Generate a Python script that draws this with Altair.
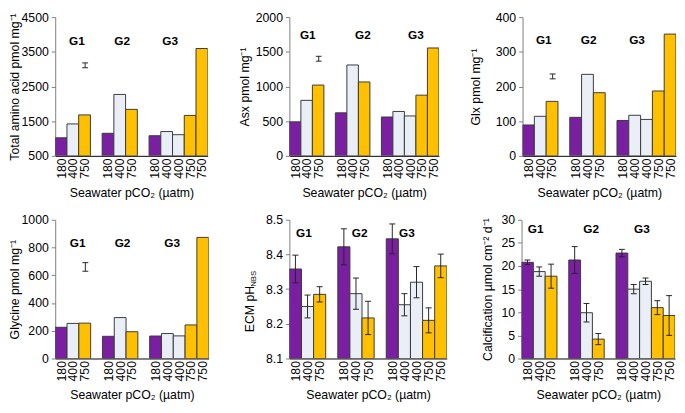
import altair as alt
import pandas as pd

# ---------------- categories ----------------
bar_groups = ["G1", "G1", "G1", "G2", "G2", "G2", "G3", "G3", "G3", "G3", "G3"]
bar_pco2 = ["180", "400", "750", "180", "400", "750", "180", "400", "400", "750", "750"]
group_names = ["G1", "G2", "G3"]
pco2_levels = ["180", "400", "750"]

# ---------------- series values ----------------
total_aa = [1020, 1420, 1680, 1150, 2270, 1840, 1080, 1200, 1110, 1665, 3595]
asx = [490, 800, 1020, 620, 1310, 1065, 560, 640, 575, 875, 1555]
glx = [89, 114, 157, 111, 235, 182, 102, 117, 105, 187, 351]
glycine = [225, 253, 255, 160, 295, 193, 162, 180, 163, 242, 873]
ecm_ph = [8.358, 8.25, 8.285, 8.422, 8.287, 8.217, 8.445, 8.255, 8.32, 8.21, 8.367]
ecm_ph_err = [0.040, 0.033, 0.022, 0.052, 0.045, 0.048, 0.043, 0.032, 0.045, 0.036, 0.034]
calc = [20.8, 18.8, 17.8, 21.3, 9.9, 4.2, 22.8, 15.0, 16.7, 11.0, 9.3]
calc_err = [0.5, 1.0, 2.6, 2.9, 2.0, 1.2, 0.8, 1.0, 0.7, 1.5, 4.3]

# representative error bars of the amino-acid panels: [value, half range]
total_aa_ref = [3110, 70]
asx_ref = [1400, 35]
glx_ref = [229, 7]
glycine_ref = [660, 31]

# tick values
total_aa_ticks = [500, 1500, 2500, 3500, 4500]
asx_ticks = [0, 500, 1000, 1500, 2000]
glx_ticks = [0, 100, 200, 300, 400]
glycine_ticks = [0, 200, 400, 600, 800, 1000]
ecm_ticks = [8.1, 8.2, 8.3, 8.4, 8.5]
calc_ticks = [0, 5, 10, 15, 20, 25, 30]

# ---------------- style ----------------
COLORS = ["#7A1FA2", "#E9EEF7", "#FFC000"]
BAR_STROKE = "#3A3A3A"
ERR_COLOR = "#262626"
AXIS_GREY = "#7F7F7F"
LABEL_FONT = "Liberation Sans Narrow, Liberation Sans, Arial"
FONT = "Liberation Sans, Arial"
XTITLE = "Seawater pCO\u2082 (\u00b5atm)"

# slot layout: consecutive slots per group, one empty slot between groups
slots = []
pos = 0
prev = None
for g in bar_groups:
    if prev is not None and g != prev:
        pos += 1
    slots.append(pos)
    pos += 1
    prev = g
n_slots = pos
slot_labels = [""] * n_slots
for s, lab in zip(slots, bar_pco2):
    slot_labels[s] = lab
label_expr = "[" + ",".join("'%s'" % l for l in slot_labels) + "][floor(datum.value)]"
label_vals = [s + 0.5 for s in slots]

CAP = 0.25
REF_X = 2.55


def panel(values, title, domain, ticks, fmt, width, height, title_x,
          g_x, g_y, errs=None, ref=None, title_y_frac=0.5, sub=None):
    xs = alt.Scale(domain=[0, n_slots], nice=False, zero=False)
    ys = alt.Scale(domain=domain, nice=False, zero=False)
    xax = alt.Axis(values=label_vals, labelExpr=label_expr, labelAngle=-90,
                   labelOverlap=False, labelBound=False,
                   ticks=False, grid=False, domainColor="#000000", domainWidth=1,
                   labelPadding=2, labelFont=LABEL_FONT, labelFontSize=12.5,
                   minExtent=22, maxExtent=22, title=XTITLE, titlePadding=9,
                   titleFont=FONT, titleFontSize=12.5)
    yax = alt.Axis(values=ticks, format=fmt, grid=False, tickSize=4,
                   labelOverlap=False,
                   tickColor=AXIS_GREY, domainColor=AXIS_GREY, labelPadding=3,
                   labelFont=LABEL_FONT, labelFontSize=12.5, title=title,
                   titleFont=FONT, titleFontSize=12.5, titleAngle=270,
                   titleBaseline="alphabetic", titleX=title_x,
                   titleY=height * title_y_frac)

    def X(f):
        return alt.X(f, type="quantitative", scale=xs, axis=xax)

    def Y(f):
        return alt.Y(f, type="quantitative", scale=ys, axis=yax)

    df = pd.DataFrame({"slot": slots, "slot_end": [s + 1 for s in slots],
                       "value": values, "pco2": bar_pco2, "group": bar_groups})
    bars = alt.Chart(df).mark_bar(stroke=BAR_STROKE, strokeWidth=1, clip=True).encode(
        x=X("slot"), x2="slot_end", y=Y("value"), y2=alt.datum(domain[0]),
        color=alt.Color("pco2:N", scale=alt.Scale(domain=pco2_levels, range=COLORS), legend=None),
    )
    layers = [bars]

    erows = []
    if errs is not None:
        for s, v, e in zip(slots, values, errs):
            erows.append({"c": s + 0.5, "lo": v - e, "hi": v + e})
    if ref is not None:
        erows.append({"c": REF_X, "lo": ref[0] - ref[1], "hi": ref[0] + ref[1]})
    if erows:
        edf = pd.DataFrame(erows)
        edf["cl"] = edf["c"] - CAP
        edf["cr"] = edf["c"] + CAP
        base = alt.Chart(edf)
        layers.append(base.mark_rule(color=ERR_COLOR, strokeWidth=1).encode(
            x=X("c"), y=Y("lo"), y2="hi"))
        layers.append(base.mark_rule(color=ERR_COLOR, strokeWidth=1).encode(
            x=X("cl"), x2="cr", y=Y("lo")))
        layers.append(base.mark_rule(color=ERR_COLOR, strokeWidth=1).encode(
            x=X("cl"), x2="cr", y=Y("hi")))

    gdf = pd.DataFrame({"g": group_names, "gx": g_x, "gy": [g_y] * 3})
    layers.append(alt.Chart(gdf).mark_text(font=FONT, fontSize=12, fontWeight="bold",
                                           color="#000000", baseline="middle").encode(
        x=X("gx"), y=Y("gy"), text="g:N"))

    if sub is not None:
        sdf = pd.DataFrame({"t": [sub]})
        layers.append(alt.Chart(sdf).mark_text(font=FONT, fontSize=8, angle=270,
                                               baseline="alphabetic", align="center",
                                               color="#000000").encode(
            text="t:N", x=alt.value(title_x + 2.5), y=alt.value(height * 0.425)))

    return alt.layer(*layers).properties(width=width, height=height)


H = 141
p1 = panel(total_aa, "Total amino acid pmol mg\u207b\u00b9", [500, 4500], total_aa_ticks, "d",
           155, H, -37.4, [1.85, 5.7, 9.8], 3809, ref=total_aa_ref)
p2 = panel(asx, "Asx pmol mg\u207b\u00b9", [0, 2000], asx_ticks, "d",
           152, H, -41.4, [1.6, 6.4, 11.0], 1748, ref=asx_ref)
p3 = panel(glx, "Glx pmol mg\u207b\u00b9", [0, 400], glx_ticks, "d",
           156, H, -43.4, [1.8, 5.6, 9.7], 333, ref=glx_ref)
p4 = panel(glycine, "Glycine pmol mg\u207b\u00b9", [0, 1000], glycine_ticks, "d",
           156, H, -37.4, [1.9, 5.7, 9.9], 834, ref=glycine_ref)
p5 = panel(ecm_ph, "ECM pH", [8.1, 8.5], ecm_ticks, ".1f",
           160, H, -36.4, [1.2, 5.8, 9.7], 8.462, errs=ecm_ph_err,
           title_y_frac=0.64, sub="NBS")
p6 = panel(calc, "Calcification \u00b5mol cm\u207b\u00b2 d\u207b\u00b9", [0, 30], calc_ticks, "d",
           156, H, -30.4, [1.2, 5.9, 10.2], 28.1, errs=calc_err)

row1 = alt.hconcat(p1, p2, p3, spacing=30)
row2 = alt.hconcat(p4, p5, p6, spacing=34)

chart = alt.vconcat(row1, row2, spacing=15).properties(padding=0).configure_view(
    stroke=None
).configure_axis(labelColor="#000000", titleColor="#000000", titleFontWeight="normal")

chart.save("out.html", embed_options={"renderer": "svg", "actions": False})
